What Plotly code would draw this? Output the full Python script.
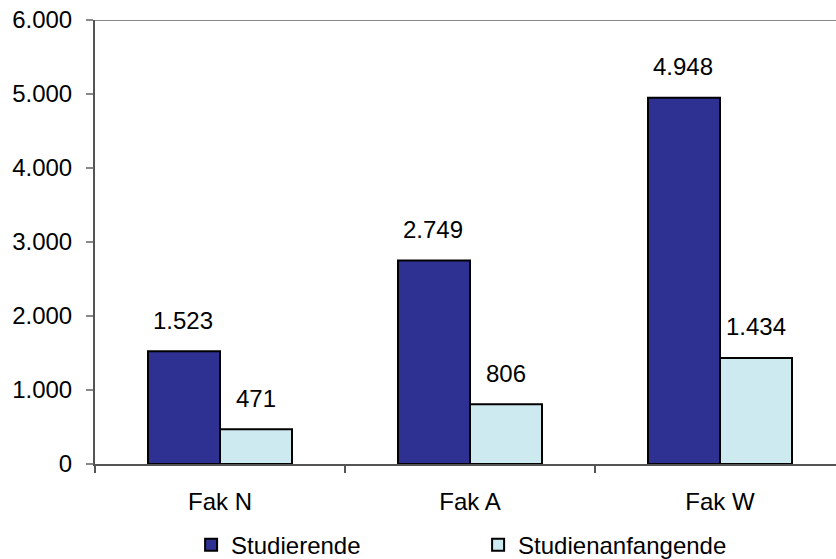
import plotly.graph_objects as go

categories = ["Fak N", "Fak A", "Fak W"]
studierende = [1523, 2749, 4948]
anfangende = [471, 806, 1434]
y_ticks = [0, 1000, 2000, 3000, 4000, 5000, 6000]

def de(v):
    return f"{v:,}".replace(",", ".")

FONT = "Liberation Sans, Arial, sans-serif"
FS = 24
fig = go.Figure()
fig.add_trace(go.Bar(name="Studierende", x=categories, y=studierende,
                     marker=dict(color="#2E3192", line=dict(color="#000000", width=2))))
fig.add_trace(go.Bar(name="Studienanfangende", x=categories, y=anfangende,
                     marker=dict(color="#CDEAF0", line=dict(color="#000000", width=2))))

ann = []
for i, c in enumerate(categories):
    for v, xs in ((studierende[i], -37), (anfangende[i], 36)):
        ann.append(dict(x=c, y=v, text=de(v), showarrow=False, xshift=xs, yshift=31,
                        yanchor="middle", font=dict(size=FS, color="#000")))

fig.update_layout(
    width=836, height=559,
    margin=dict(l=95, r=0, t=20, b=95, autoexpand=False),
    plot_bgcolor="white", paper_bgcolor="white",
    font=dict(family=FONT, size=FS, color="#000"),
    separators=",.",
    barmode="group", bargap=0.424, bargroupgap=0,
    annotations=ann,
    showlegend=True,
    legend=dict(orientation="h", x=0.517, xanchor="center", y=-0.183, yanchor="middle",
                font=dict(size=FS), entrywidth=242, itemwidth=30, traceorder="normal"),
    shapes=[dict(type="line", xref="paper", yref="y", x0=0, x1=1, y0=6000, y1=6000,
                 line=dict(color="#888888", width=2))],
)
fig.update_xaxes(range=[-0.5, 2.464], showline=True, linecolor="#555555", linewidth=2,
                 ticks="outside", tickson="boundaries", ticklen=7, tickcolor="#555555",
                 tickwidth=1.5, showgrid=False, ticklabelstandoff=15, automargin=False)
fig.update_yaxes(range=[0, 6000], tickvals=y_ticks, tickformat=",d", showline=True,
                 linecolor="#555555", linewidth=2, ticks="outside", ticklen=7,
                 tickcolor="#888888", tickwidth=2, showgrid=False, zeroline=False,
                 ticklabelstandoff=9, automargin=False)
fig.write_html("out.html", post_script="document.body.style.margin='0';",
               config={"displayModeBar": False})
